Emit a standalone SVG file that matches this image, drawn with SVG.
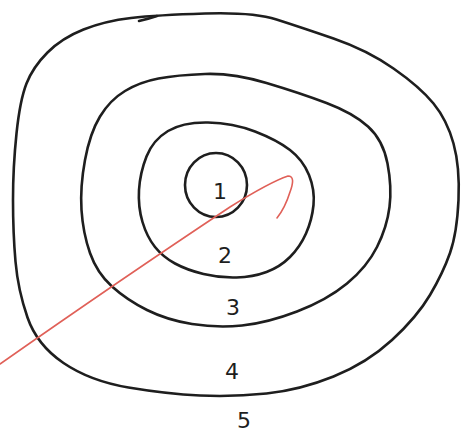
<svg xmlns="http://www.w3.org/2000/svg" width="462" height="441" viewBox="0 0 462 441">
<style>
.ring{fill:none;stroke:#1e1e1e;stroke-width:2.6;stroke-linecap:round;stroke-linejoin:round}
.lbl{font-family:"DejaVu Sans",sans-serif;font-size:22px;fill:#1e1e1e;text-anchor:middle}
.red{fill:none;stroke:#e06058;stroke-width:1.6;stroke-linecap:round}
</style>
<rect width="462" height="441" fill="#ffffff"/>
<g id="ring5">
<path class="ring" d="M131,18 Q157,15 205,13.5 Q253,12 276.5,19.5 Q300,27 333.5,38.5 Q367,50 393.5,68.5 Q420,87 433.5,103.5 Q447,120 453.5,143.5 Q460,167 458.5,200 Q457,233 450,253 Q443,273 430,295 Q417,317 392,340 Q367,363 333.5,376.5 Q300,390 266.5,393.5 Q233,397 200,395.5 Q167,394 128.5,387.5 Q90,381 63.5,363 Q37,345 27.5,317.5 Q18,290 15.5,261.5 Q13,233 13,200 Q13,167 16.5,133.5 Q20,100 26.5,83.5 Q33,67 47.5,52.5 Q62,38 83.5,29.5 Q105,21 131,18 Z"/>
<path class="ring" d="M139,21 Q148,19 157,16"/>
</g>
<g id="ring3">
<path class="ring" d="M158.5,78.5 Q177,75 205,74 Q233,73 266.5,83 Q300,93 326.5,103 Q353,113 368,126.5 Q383,140 387.5,163.5 Q392,187 389.5,207 Q387,227 377,247 Q367,267 347,283.5 Q327,300 297,311.5 Q267,323 242,325.5 Q217,328 192,324 Q167,320 147,310 Q127,300 112,286.5 Q97,273 90,253 Q83,233 81.5,210 Q80,187 85,160 Q90,133 100,116.5 Q110,100 125,91 Q140,82 158.5,78.5 Z"/>
</g>
<g id="ring2">
<path class="ring" d="M168,131 Q183,122 208,122.5 Q233,123 255,131.5 Q277,140 290,150 Q303,160 309,175 Q315,190 313.5,205 Q312,220 306,233.5 Q300,247 290,257 Q280,267 266.5,272 Q253,277 236.5,277.5 Q220,278 203.5,274 Q187,270 175,263.5 Q163,257 155,247 Q147,237 142.5,222 Q138,207 139,190 Q140,173 146.5,156.5 Q153,140 168,131 Z"/>
</g>
<g id="ring1">
<ellipse class="ring" cx="216" cy="185" rx="31" ry="32"/>
</g>
<g id="labels">
<text class="lbl" x="220" y="199">1</text>
<text class="lbl" x="225" y="263">2</text>
<text class="lbl" x="233" y="315">3</text>
<text class="lbl" x="232" y="379">4</text>
<text class="lbl" x="244" y="428">5</text>
</g>
<g id="connectors">
<path class="red" d="M0,364 Q120,280 230,207 Q270,182 288,176 Q296,176 290,192 Q285,208 277,218"/>
</g>
</svg>
